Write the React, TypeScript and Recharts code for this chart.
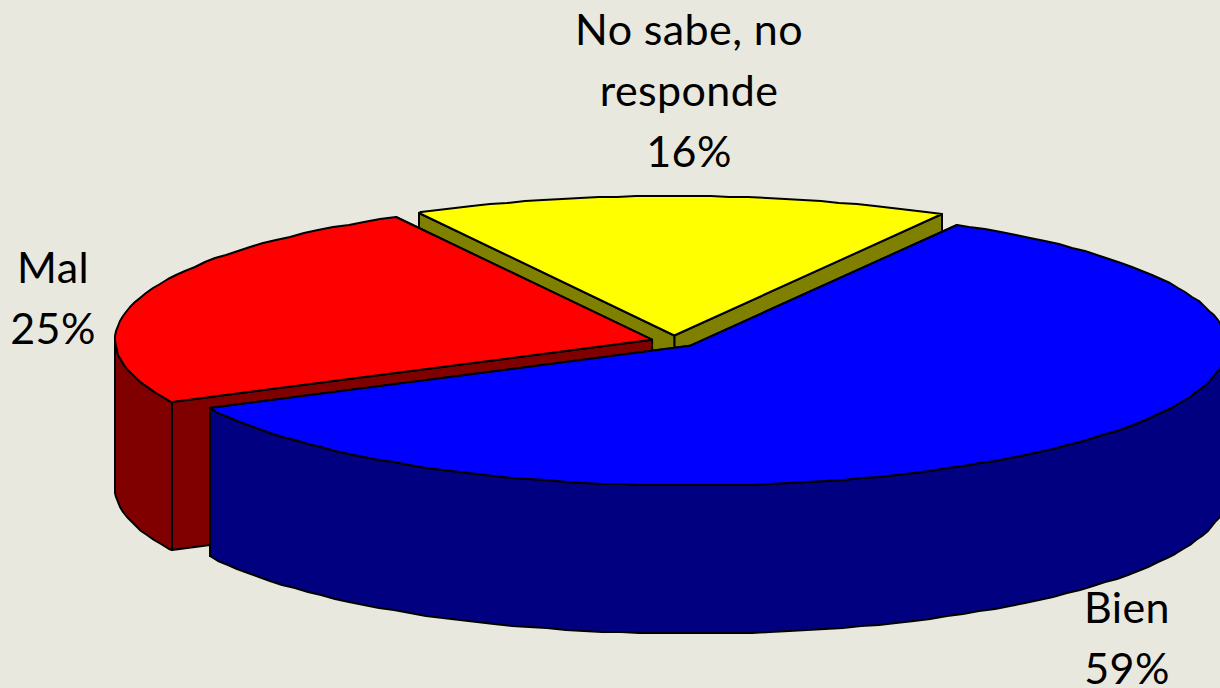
import { PieChart, Pie } from 'recharts';

const categories = ['No sabe, no responde', 'Mal', 'Bien'];
const values = [16.2, 24.5, 59.3];
const labelLines = [['No sabe, no', 'responde'], ['Mal'], ['Bien']];

const topColors = ['#ffff00', '#ff0000', '#0000ff'];
const sideColors = ['#808000', '#800000', '#000080'];
const labelAnchors = [
    { x: 689, y: 45 },
    { x: 53, y: 283 },
    { x: 1127, y: 623 },
];

const WIDTH = 1220;
const HEIGHT = 688;
const SQUASH = 0.26;
const DEPTH = 148;
const EXPLODE = 23;
const ARC_STEP = 2;
const RAD = Math.PI / 180;
const LINE_HEIGHT = 61;

const tableData = categories.map((name, i) => ({ name, value: values[i], fill: topColors[i], side: sideColors[i] }));

function Slice3D(props: any) {
    const { cx, cy, outerRadius, startAngle, endAngle, fill, payload } = props;
    const mid = (startAngle + endAngle) / 2;
    const ox = cx + EXPLODE * Math.cos(mid * RAD);
    const oy = cy - EXPLODE * Math.sin(mid * RAD) * SQUASH;
    const pt = (a: number, drop = 0) => [
        Math.round(ox + outerRadius * Math.cos(a * RAD)),
        Math.round(oy - outerRadius * Math.sin(a * RAD) * SQUASH + drop),
    ];
    const arc = (from: number, to: number, drop = 0) => {
        const out = [];
        for (let a = from; a < to; a += ARC_STEP) out.push(pt(a, drop));
        out.push(pt(to, drop));
        return out;
    };
    const toPath = (pts: number[][]) => 'M' + pts.map((p) => p.join(',')).join('L') + 'Z';
    const apex = [ox, oy];
    const apexLow = [ox, oy + DEPTH];
    const edge = { stroke: '#000', strokeWidth: 2, strokeLinejoin: 'round' as const };
    const wallA = [apex, pt(startAngle), pt(startAngle, DEPTH), apexLow];
    const wallB = [apex, pt(endAngle), pt(endAngle, DEPTH), apexLow];
    const lo = Math.max(startAngle, 180);
    const hi = Math.min(endAngle, 360);
    const band = lo < hi ? [...arc(lo, hi), ...arc(lo, hi, DEPTH).reverse()] : null;
    return (
        <g>
            <path d={toPath(wallA)} fill={payload.side} {...edge} />
            <path d={toPath(wallB)} fill={payload.side} {...edge} />
            {band && <path d={toPath(band)} fill={payload.side} {...edge} />}
            <path d={toPath([apex, ...arc(startAngle, endAngle)])} fill={fill} {...edge} />
        </g>
    );
}

function SliceLabel(props: any) {
    const { index, value } = props;
    const anchor = labelAnchors[index];
    const lines = [...labelLines[index], `${Math.round(value)}%`];
    return (
        <text x={anchor.x} y={anchor.y} textAnchor="middle" fill="#000" fontFamily="Lato" fontSize={43} letterSpacing={0.4}>
            {lines.map((line, i) => (
                <tspan key={line} x={anchor.x} dy={i === 0 ? 0 : LINE_HEIGHT}>
                    {line}
                </tspan>
            ))}
        </text>
    );
}

export default function App() {
    return (
        <div style={{ position: 'absolute', left: 0, top: 0, width: WIDTH, height: HEIGHT, background: '#e8e8de', overflow: 'hidden' }}>
            <PieChart width={WIDTH} height={HEIGHT} margin={{ top: 0, right: 0, bottom: 0, left: 0 }}>
                <Pie
                    data={tableData}
                    dataKey="value"
                    nameKey="name"
                    cx={674}
                    cy={341.5}
                    outerRadius={537}
                    startAngle={60.1}
                    endAngle={420.1}
                    stroke="#000"
                    shape={Slice3D}
                    label={SliceLabel}
                    labelLine={false}
                    isAnimationActive={false}
                />
            </PieChart>
        </div>
    );
}
